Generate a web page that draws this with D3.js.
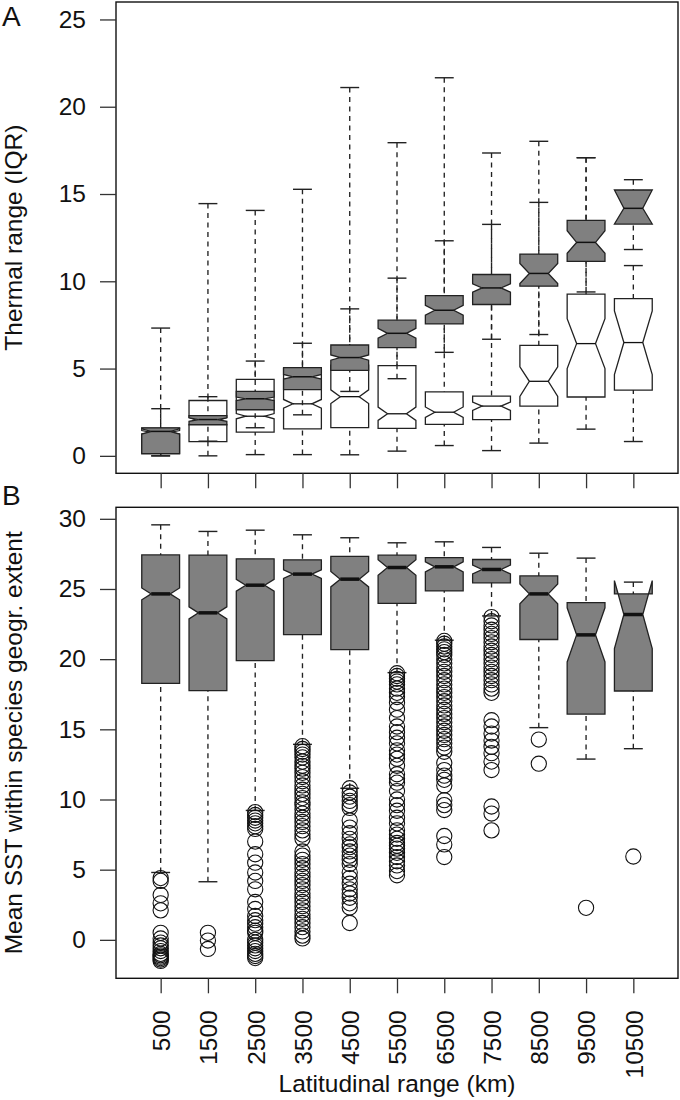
<!DOCTYPE html>
<html>
<head>
<meta charset="utf-8">
<script src="https://cdn.jsdelivr.net/npm/d3@7"></script>
<style>
  body { margin: 0; background: #fff; }
  svg { display: block; font-family: "Liberation Sans", Arial, sans-serif; }
</style>
</head>
<body>
<div id="chart"></div>
<script>
var W = 680, H = 1100

// latitudinal range classes (km)
var categories = ["500", "1500", "2500", "3500", "4500", "5500", "6500", "7500", "8500", "9500", "10500"]

// panel A, grey boxes: [lower whisker, Q1, median, Q3, upper whisker]
var thermGray = [
  [0.0, 0.12, 1.4, 1.6, 2.7],
  [0.84, 1.78, 2.08, 2.3, 3.39],
  [1.61, 2.64, 3.27, 3.69, 5.43],
  [2.35, 3.79, 4.53, 5.05, 6.45],
  [3.69, 4.9, 5.63, 6.35, 8.42],
  [4.42, 6.2, 7.02, 7.77, 10.18],
  [5.93, 7.56, 8.34, 9.18, 12.32],
  [6.68, 8.67, 9.62, 10.39, 13.26],
  [6.95, 9.72, 10.45, 11.56, 14.52],
  [9.39, 11.14, 12.23, 13.49, 17.08],
  [11.82, 13.28, 14.18, 15.23, 15.82]
]
var thermGrayNotch = [
  [1.25, 1.55], [1.98, 2.18], [3.17, 3.37], [4.4, 4.66], [5.48, 5.78], [6.74, 7.3],
  [8.06, 8.62], [9.38, 9.86], [9.87, 11.02], [11.6, 12.9], [13.28, 15.23]
]

// panel A, white boxes
var thermWhite = [
  [0.0, 0.14, 1.35, 1.58, 7.32],
  [0.0, 0.82, 2.0, 3.17, 14.45],
  [0.07, 1.36, 2.27, 4.38, 14.06],
  [0.07, 1.55, 2.98, 5.0, 15.27],
  [0.06, 1.62, 3.39, 5.2, 21.1],
  [0.27, 1.57, 2.41, 5.17, 17.94],
  [0.59, 1.8, 2.5, 3.67, 21.66],
  [0.3, 2.07, 2.85, 3.42, 17.35],
  [0.73, 2.85, 4.27, 6.33, 18.02],
  [1.53, 3.37, 6.43, 9.26, 17.08],
  [0.82, 3.77, 6.49, 9.01, 10.9]
]
var thermWhiteNotch = [
  [1.25, 1.45], [1.8, 2.2], [2.12, 2.42], [2.73, 3.23], [3.0, 3.78], [2.03, 2.79],
  [2.2, 2.8], [2.6, 3.08], [3.4, 5.1], [5.0, 7.86], [4.65, 8.3]
]

// panel B boxes
var sstStats = [
  [4.8, 18.28, 24.65, 27.43, 29.57],
  [4.14, 17.76, 23.3, 27.41, 29.1],
  [9.22, 19.9, 25.27, 27.15, 29.19],
  [13.93, 21.75, 26.06, 27.08, 28.86],
  [10.8, 20.68, 25.7, 27.32, 28.65],
  [19.04, 23.97, 26.53, 27.41, 28.29],
  [21.35, 24.86, 26.58, 27.24, 28.36],
  [23.08, 25.44, 26.39, 27.1, 27.96],
  [15.12, 21.4, 24.65, 25.93, 27.55],
  [12.88, 16.09, 21.73, 24.03, 27.2],
  [13.62, 17.73, 23.18, 24.65, 25.49]
]
var sstNotch = [
  [24.23, 25.07], [22.87, 23.73], [24.85, 25.69], [25.76, 26.36], [25.15, 26.25], [25.98, 27.08],
  [26.22, 26.94], [26.07, 26.71], [23.95, 25.35], [19.8, 23.66], [20.76, 25.6]
]
var sstOutliers = [
  [4.4, 4.2, 3.2, 2.6, 2.1, 0.5, 0.1, -0.2, -0.4, -0.6, -0.8, -1.0, -1.1, -1.2, -1.3, -1.4, -1.5],
  [0.5, -0.05, -0.65],
  [9.1, 8.9, 8.7, 8.5, 8.3, 8.1, 7.9, 7.0, 6.1, 5.5, 4.8, 4.2, 3.6, 2.7, 2.2, 1.7, 1.4, 1.15, 0.9,
   0.65, 0.5, 0.0, -0.2, -0.4, -0.6, -0.8, -1.0, -1.15, -1.3],
  [13.8, 13.6, 13.4, 13.2, 13.0, 12.7, 12.4, 12.2, 11.9, 11.6, 11.3, 11.0, 10.7, 10.4, 10.1, 9.8,
   9.6, 9.3, 9.0, 8.7, 8.4, 8.1, 7.8, 7.5, 7.2, 6.3, 6.0, 5.7, 5.4, 5.1, 4.8, 4.5, 4.2, 3.9, 3.6,
   3.3, 3.0, 2.7, 2.4, 2.1, 1.8, 1.5, 1.2, 0.9, 0.6, 0.3, 0.1],
  [10.8, 10.5, 10.2, 9.9, 9.6, 9.4, 8.5, 8.0, 7.6, 7.2, 6.8, 6.6, 6.3, 6.0, 5.7, 5.4, 4.8, 4.4,
   4.0, 3.6, 3.3, 3.0, 2.6, 2.3, 1.2],
  [19.0, 18.8, 18.6, 18.4, 18.2, 17.9, 17.6, 17.3, 16.9, 16.4, 15.8, 15.2, 14.8, 14.4, 14.0,
   13.5, 13.2, 12.9, 12.4, 11.8, 11.5, 11.2, 10.6, 10.0, 9.6, 9.2, 8.7, 8.3, 7.8, 7.5, 7.2,
   6.9, 6.7, 6.5, 6.2, 5.9, 5.6, 5.3, 4.9, 4.6],
  [21.3, 21.1, 20.9, 20.7, 20.5, 20.3, 20.0, 19.7, 19.4, 19.1, 18.8, 18.5, 18.2, 17.9, 17.6, 17.3,
   17.0, 16.7, 16.4, 16.1, 15.8, 15.5, 15.2, 14.9, 14.6, 14.3, 14.0, 13.7, 13.4, 12.6, 12.1, 11.7,
   11.4, 11.0, 9.95, 9.6, 9.25, 7.4, 6.8, 5.9],
  [23.0, 22.7, 22.4, 22.1, 21.8, 21.5, 21.2, 20.9, 20.6, 20.3, 20.0, 19.7, 19.4, 19.1, 18.8, 18.5,
   18.2, 17.9, 17.6, 15.65, 15.2, 14.7, 14.2, 13.75, 13.3, 12.7, 12.1, 9.5, 9.0, 7.8],
  [14.27, 12.55],
  [2.28],
  [5.94]
]

var yTicksA = [0, 5, 10, 15, 20, 25]
var yTicksB = [0, 5, 10, 15, 20, 25, 30]

var left = 116, right = 678
var panelA = { top: 2, bottom: 473.3 }
var panelB = { top: 507.3, bottom: 978.3 }

var svg = d3.select("#chart").append("svg")
  .attr("width", W)
  .attr("height", H)

var x = d3.scalePoint()
  .domain(categories)
  .range([left, right])
  .padding(0.945)

var halfW = x.step() * 0.4

var yA = d3.scaleLinear().domain([-1, 26]).range([panelA.bottom, panelA.top])
var yB = d3.scaleLinear().domain([-2.74, 30.82]).range([panelB.bottom, panelB.top])

var GREY = "#808080", EDGE = "#222"

function drawBox(g, cx, y, s, nt, fill, medW) {
  var nf = 0.5
  var xs = [-1, 1, 1, nf, 1, 1, -1, -1, -nf, -1]
  var ys = [s[1], s[1], nt[0], s[2], nt[1], s[3], s[3], nt[1], s[2], nt[0]]
  var pts = xs.map(function(k, i) { return [cx + k * halfW, y(ys[i])] })

  g.append("path")
    .attr("d", "M" + pts.join("L") + "Z")
    .attr("fill", fill)
    .attr("stroke", EDGE)
    .attr("stroke-width", 1.3)
    .attr("stroke-linejoin", "miter")

  // whiskers
  g.append("line")
    .attr("x1", cx).attr("x2", cx)
    .attr("y1", y(s[0])).attr("y2", y(s[1]))
    .attr("stroke", EDGE).attr("stroke-width", 1.35)
    .attr("stroke-dasharray", "5,4.5")
  g.append("line")
    .attr("x1", cx).attr("x2", cx)
    .attr("y1", y(s[4])).attr("y2", y(s[3]))
    .attr("stroke", EDGE).attr("stroke-width", 1.35)
    .attr("stroke-dasharray", "5,4.5")

  // staples
  ;[s[0], s[4]].forEach(function(v) {
    g.append("line")
      .attr("x1", cx - halfW / 2).attr("x2", cx + halfW / 2)
      .attr("y1", y(v)).attr("y2", y(v))
      .attr("stroke", EDGE).attr("stroke-width", 1.4)
  })

  // median
  g.append("line")
    .attr("x1", cx - halfW * nf).attr("x2", cx + halfW * nf)
    .attr("y1", y(s[2])).attr("y2", y(s[2]))
    .attr("stroke", "#111").attr("stroke-width", medW)
}

function frame(p) {
  svg.append("rect")
    .attr("x", left).attr("y", p.top)
    .attr("width", right - left).attr("height", p.bottom - p.top)
    .attr("fill", "none").attr("stroke", "#111").attr("stroke-width", 1.4)
}

function yAxis(scale, ticks) {
  var ax = svg.append("g")
    .attr("transform", "translate(" + left + ",0)")
    .call(d3.axisLeft(scale).tickValues(ticks).tickSize(16).tickPadding(14))
  ax.select(".domain").remove()
  ax.selectAll("line").attr("stroke", "#333").attr("stroke-width", 1.3)
  ax.selectAll("text").attr("font-size", 24.5).attr("fill", "#111")
    .attr("font-family", "Liberation Sans, Arial, sans-serif")
  return ax
}

function xAxis(yPos, labels) {
  var ax = svg.append("g")
    .attr("transform", "translate(0," + yPos + ")")
    .call(d3.axisBottom(x).tickSize(15).tickFormat(labels ? null : ""))
  ax.select(".domain").remove()
  ax.selectAll("line").attr("stroke", "#333").attr("stroke-width", 1.3)
  if (labels) {
    ax.selectAll("text")
      .attr("transform", "rotate(-90)")
      .attr("x", -32).attr("y", 0).attr("dy", "0.36em")
      .attr("text-anchor", "end")
      .attr("font-size", 24.5).attr("fill", "#111")
      .attr("font-family", "Liberation Sans, Arial, sans-serif")
  }
}

// ---- panel A ----
var gA = svg.append("g").attr("class", "panel-a")
categories.forEach(function(c, i) {
  drawBox(gA, x(c), yA, thermWhite[i], thermWhiteNotch[i], "#fff", 1.3)
  drawBox(gA, x(c), yA, thermGray[i], thermGrayNotch[i], GREY, 1.5)
})
frame(panelA)
yAxis(yA, yTicksA)
xAxis(panelA.bottom, false)

// ---- panel B ----
var gB = svg.append("g").attr("class", "panel-b")
categories.forEach(function(c, i) {
  drawBox(gB, x(c), yB, sstStats[i], sstNotch[i], GREY, 3.5)
  gB.selectAll(null)
    .data(sstOutliers[i])
    .enter().append("circle")
    .attr("cx", x(c))
    .attr("cy", function(d) { return yB(d) })
    .attr("r", 7.6)
    .attr("fill", "none")
    .attr("stroke", "#111")
    .attr("stroke-width", 1.1)
})
frame(panelB)
yAxis(yB, yTicksB)
xAxis(panelB.bottom, true)

// ---- titles ----
function yTitle(txt, cy) {
  svg.append("text")
    .attr("transform", "translate(22," + cy + ") rotate(-90)")
    .attr("text-anchor", "middle")
    .attr("font-size", 24.5)
    .attr("fill", "#111")
    .text(txt)
}
yTitle("Thermal range (IQR)", (panelA.top + panelA.bottom) / 2)
yTitle("Mean SST within species geogr. extent", (panelB.top + panelB.bottom) / 2)

svg.append("text")
  .attr("x", (left + right) / 2).attr("y", 1092)
  .attr("text-anchor", "middle")
  .attr("font-size", 24.5)
  .attr("fill", "#111")
  .text("Latitudinal range (km)")

svg.append("text").attr("x", 2).attr("y", 26).attr("font-size", 28).attr("fill", "#111").text("A")
svg.append("text").attr("x", 2).attr("y", 505).attr("font-size", 28).attr("fill", "#111").text("B")
</script>
</body>
</html>
